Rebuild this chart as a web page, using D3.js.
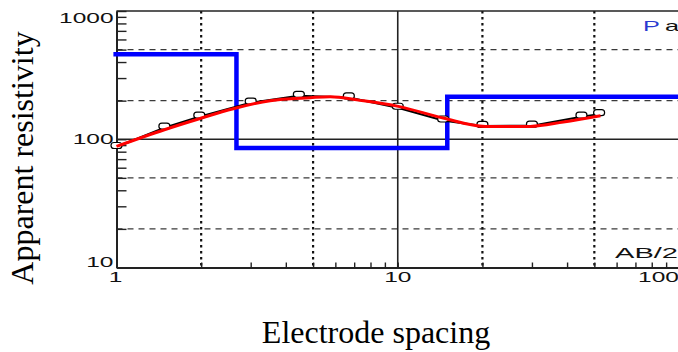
<!DOCTYPE html>
<html>
<head>
<meta charset="utf-8">
<script src="https://cdn.jsdelivr.net/npm/d3@7"></script>
<style>
  html, body { margin: 0; padding: 0; background: #fff; }
  svg { display: block; }
</style>
</head>
<body>
<svg id="chart" width="678" height="352"></svg>
<script>
// ---- data ----
const observedAB2 = [1, 1.48, 1.97, 3.0, 4.45, 6.7, 10, 14.5, 20, 30, 45, 52];
const observedRho = [87, 123, 150, 193, 218, 212, 176, 140, 127, 127.5, 150, 157];

const calcAB2 = [1, 1.48, 1.97, 2.6, 3.52, 4.88, 5.75, 7.35, 10.04, 14.5, 20.5, 29.6, 38.8, 52.6];
const calcRho = [88, 118.7, 144.6, 173, 200, 211, 214.8, 201, 180.4, 146.4, 126, 126, 136.3, 152.6];

const modelDepth = [0.975, 2.67, 2.67, 15.0, 15.0, 100];
const modelRho   = [460, 460, 85.5, 85.5, 214, 214];

const xSolidGrid = [10];
const xDottedGrid = [2, 5, 20, 50];
const ySolidGrid = [100];
const yDashedGrid = [20, 50, 200, 500];
const xTickLabels = ["1", "10", "100"];
const yTickLabels = ["10", "100", "1000"];

const xTitle = "Electrode spacing";
const yTitle = "Apparent resistivity";
const cornerLabelTop = ["Ρ", "a"];
const cornerLabelBottom = "AB/2";

(function () {
const svg = d3.select("#chart");
const pL = 116.5, pR = 679, pT = 11, pB = 267.5;
const x = d3.scaleLog().domain([1, 100]).range([pL, pR]);
const y = d3.scaleLog().domain([10, 1000]).range([pB, pT]);

// grid
const g = svg.append("g");
g.selectAll(".ydash").data(yDashedGrid).join("line")
  .attr("x1", pL).attr("x2", pR)
  .attr("y1", d => y(d)).attr("y2", d => y(d))
  .attr("stroke", "#3a3a3a").attr("stroke-width", 1.4).attr("stroke-dasharray", "6,5");
g.selectAll(".xdot").data(xDottedGrid).join("line")
  .attr("x1", d => x(d)).attr("x2", d => x(d))
  .attr("y1", pT).attr("y2", pB)
  .attr("stroke", "#111").attr("stroke-width", 2.2).attr("stroke-dasharray", "2.5,3.5");
g.selectAll(".ysolid").data(ySolidGrid).join("line")
  .attr("x1", pL).attr("x2", pR)
  .attr("y1", d => y(d)).attr("y2", d => y(d))
  .attr("stroke", "#222").attr("stroke-width", 1.4);
g.selectAll(".xsolid").data(xSolidGrid).join("line")
  .attr("x1", d => x(d)).attr("x2", d => x(d))
  .attr("y1", pT).attr("y2", pB)
  .attr("stroke", "#222").attr("stroke-width", 1.6);

// minor ticks via axes
const yAxis = d3.axisRight(y).tickSize(10).tickSizeOuter(0).tickFormat("");
svg.append("g").attr("transform", `translate(${pL},0)`).call(yAxis)
  .call(a => a.selectAll("line").attr("stroke", "#222").attr("stroke-width", 1.4))
  .call(a => a.select(".domain").attr("stroke", "#222").attr("stroke-width", 2));
const xAxis = d3.axisTop(x).tickSize(5).tickSizeOuter(0).tickFormat("");
svg.append("g").attr("transform", `translate(0,${pB})`).call(xAxis)
  .call(a => a.selectAll("line").attr("stroke", "#222").attr("stroke-width", 1.4))
  .call(a => a.select(".domain").attr("stroke", "#222").attr("stroke-width", 1.8));
svg.append("line").attr("x1", pL).attr("x2", pR).attr("y1", pT).attr("y2", pT)
  .attr("stroke", "#222").attr("stroke-width", 1.6);

// curves
const line = d3.line().x(d => x(d[0])).y(d => y(d[1]));
const plot = svg.append("g");

plot.append("path")
  .datum(modelDepth.map((d, i) => [d, modelRho[i]]))
  .attr("d", line).attr("fill", "none")
  .attr("stroke", "#0000ff").attr("stroke-width", 4.5)
  .attr("stroke-linejoin", "miter");

const obs = observedAB2.map((d, i) => [d, observedRho[i]]);
plot.append("path").datum(obs).attr("d", line).attr("fill", "none")
  .attr("stroke", "#000").attr("stroke-width", 2);
plot.selectAll(".mk").data(obs).join("rect")
  .attr("x", d => x(d[0]) - 5.5).attr("y", d => y(d[1]) - 4.5)
  .attr("width", 11).attr("height", 6).attr("rx", 3)
  .attr("fill", "#fff").attr("stroke", "#000").attr("stroke-width", 1.2);

plot.append("path")
  .datum(calcAB2.map((d, i) => [d, calcRho[i]]))
  .attr("d", d3.line().x(d => x(d[0])).y(d => y(d[1])).curve(d3.curveMonotoneX))
  .attr("fill", "none")
  .attr("stroke", "#ff0000").attr("stroke-width", 3);

// tick labels (stretched sans)
const lab = svg.append("g").attr("font-family", "Liberation Sans, Arial, sans-serif")
  .attr("font-size", 14).attr("fill", "#111");
const sx = 1.75;
yTickLabels.forEach(t => {
  const v = +t;
  const cy = Math.min(Math.max(y(v) + 5, pT + 11.5), pB - 1);
  lab.append("text").attr("text-anchor", "end")
    .attr("transform", `translate(${pL - 3},${cy}) scale(${sx},1)`)
    .text(t);
});
xTickLabels.forEach(t => {
  const v = +t;
  const w = t.length * 7.8 * sx;
  const cx = Math.min(x(v), pR - w / 2) - (v === 1 ? 1 : 0);
  lab.append("text").attr("text-anchor", "middle")
    .attr("transform", `translate(${cx},${pB + 14.5}) scale(${sx},1)`)
    .text(t);
});
const rl = lab.append("text").attr("x", 643).attr("y", 31)
  .attr("textLength", 36).attr("lengthAdjust", "spacingAndGlyphs").attr("font-size", 15);
rl.append("tspan").attr("fill", "#2a3ad0").text(cornerLabelTop[0]);
rl.append("tspan").attr("fill", "#111").attr("dx", 3).text(cornerLabelTop[1]);
lab.append("text").attr("x", 615).attr("y", 258)
  .attr("textLength", 63).attr("lengthAdjust", "spacingAndGlyphs").text(cornerLabelBottom);

// titles
svg.append("text").attr("x", 376).attr("y", 343).attr("text-anchor", "middle")
  .attr("font-family", "Liberation Serif, Times New Roman, serif").attr("font-size", 32)
  .attr("fill", "#000").text(xTitle);
svg.append("text").attr("transform", "translate(33,158) rotate(-90)").attr("text-anchor", "middle")
  .attr("font-family", "Liberation Serif, Times New Roman, serif").attr("font-size", 32)
  .attr("fill", "#000").text(yTitle);
})();
</script>
</body>
</html>
